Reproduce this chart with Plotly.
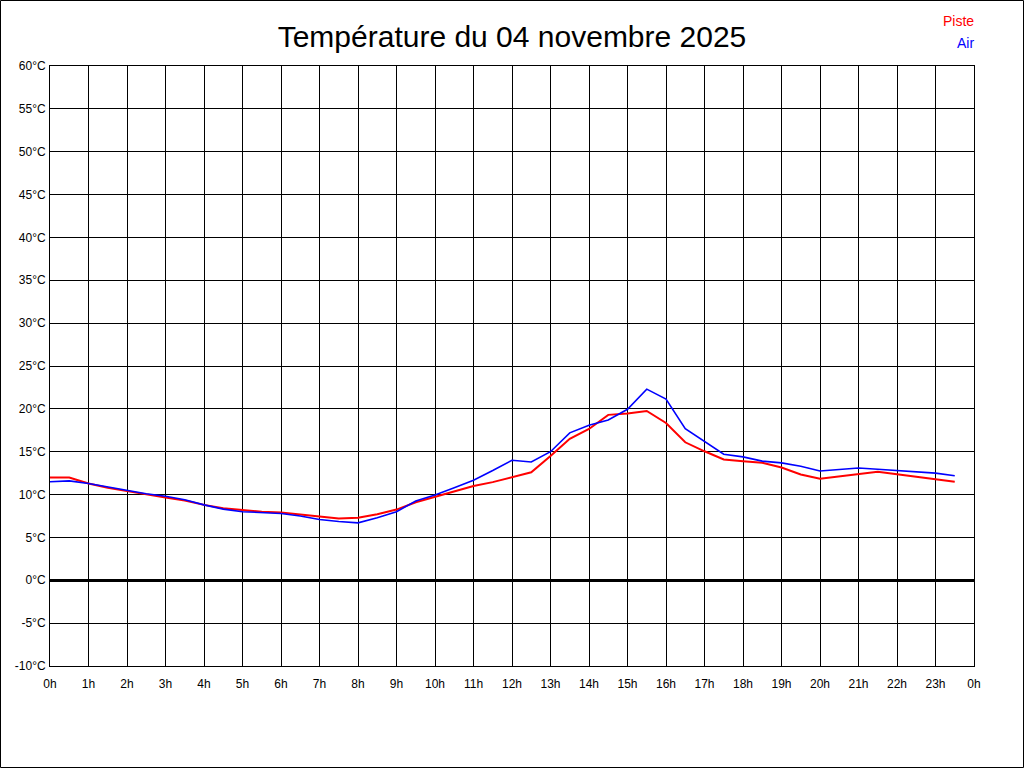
import plotly.graph_objects as go

hours = [0, 0.5, 1, 1.5, 2, 2.5, 3, 3.5, 4, 4.5, 5, 5.5, 6, 6.5, 7, 7.5, 8, 8.5, 9, 9.5,
         10, 10.5, 11, 11.5, 12, 12.5, 13, 13.5, 14, 14.5, 15, 15.5, 16, 16.5, 17, 17.5,
         18, 18.5, 19, 19.5, 20, 20.5, 21, 21.5, 22, 22.5, 23, 23.5]
piste = [12.0, 12.0, 11.3, 10.8, 10.4, 10.0, 9.65, 9.3, 8.8, 8.4, 8.2, 8.0, 7.9, 7.7, 7.45, 7.2,
         7.3, 7.7, 8.25, 9.1, 9.75, 10.4, 11.0, 11.45, 12.0, 12.6, 14.5, 16.5, 17.65, 19.3,
         19.45, 19.75, 18.35, 16.1, 15.05, 14.1, 13.9, 13.7, 13.15, 12.35, 11.85, 12.1, 12.4,
         12.65, 12.37, 12.1, 11.85, 11.5]
air = [11.5, 11.6, 11.3, 10.9, 10.5, 10.1, 9.8, 9.4, 8.8, 8.3, 8.0, 7.9, 7.8, 7.5, 7.1, 6.85,
       6.7, 7.3, 8.0, 9.25, 9.95, 10.8, 11.67, 12.8, 14.0, 13.8, 15.0, 17.2, 18.1, 18.7,
       19.95, 22.3, 21.15, 17.7, 16.2, 14.7, 14.4, 13.9, 13.7, 13.3, 12.75, 12.95, 13.1,
       12.95, 12.8, 12.65, 12.5, 12.2]

x_ticks = list(range(0, 25))
x_labels = [f"{h % 24}h" for h in x_ticks]
y_ticks = list(range(-10, 61, 5))
y_labels = [f"{v}°C" for v in y_ticks]

title_text = "Température du 04 novembre 2025"
series_names = ["Piste", "Air"]
series_colors = ["#ff0000", "#0000ff"]

FONT = "Liberation Sans, Arial, sans-serif"

fig = go.Figure()
fig.add_trace(go.Scatter(x=hours, y=piste, mode="lines", name=series_names[0],
                         line=dict(color=series_colors[0], width=2)))
fig.add_trace(go.Scatter(x=hours, y=air, mode="lines", name=series_names[1],
                         line=dict(color=series_colors[1], width=1.6)))

L, R, T, B = 50, 50, 66, 102
W, H = 1024, 768
pw, ph = W - L - R, H - T - B

fig.update_layout(
    width=W, height=H,
    margin=dict(l=L, r=R, t=T, b=B),
    paper_bgcolor="white", plot_bgcolor="white",
    showlegend=False,
    font=dict(family=FONT, size=12, color="black"),
    title=dict(text=title_text, x=0.5, xanchor="center", y=1 - 36 / H, yanchor="middle",
               font=dict(family=FONT, size=30, color="black")),
    xaxis=dict(range=[0, 24], tickmode="array", tickvals=x_ticks, ticktext=x_labels,
               showgrid=True, gridcolor="black", gridwidth=1, zeroline=False,
               showline=True, linecolor="black", linewidth=1, mirror=True,
               ticks="", ticklen=0, ticklabelstandoff=7, tickfont=dict(size=12)),
    yaxis=dict(range=[-10, 60], tickmode="array", tickvals=y_ticks, ticktext=y_labels,
               showgrid=True, gridcolor="black", gridwidth=1,
               zeroline=True, zerolinecolor="black", zerolinewidth=3,
               showline=True, linecolor="black", linewidth=1, mirror=True,
               ticks="", ticklen=0, ticklabelstandoff=1, tickfont=dict(size=12)),
)

# Frame around the whole image
fig.add_shape(type="rect", xref="paper", yref="paper",
              x0=(-L + 0.5) / pw, x1=1 + (R - 0.5) / pw,
              y0=(-B + 0.5) / ph, y1=1 + (T - 0.5) / ph,
              line=dict(color="black", width=1), fillcolor="rgba(0,0,0,0)", layer="above")

# Series labels (top right)
for i, (name, col) in enumerate(zip(series_names, series_colors)):
    fig.add_annotation(text=name, xref="paper", yref="paper",
                       x=1 + (976 - (W - R)) / pw, xanchor="right",
                       y=1 + (T - (21 + 22 * i)) / ph, yanchor="middle",
                       showarrow=False, font=dict(family=FONT, size=14, color=col))

fig.write_html("out.html", config={"displayModeBar": False},
               post_script="document.body.style.margin='0';document.body.style.overflow='hidden';")
